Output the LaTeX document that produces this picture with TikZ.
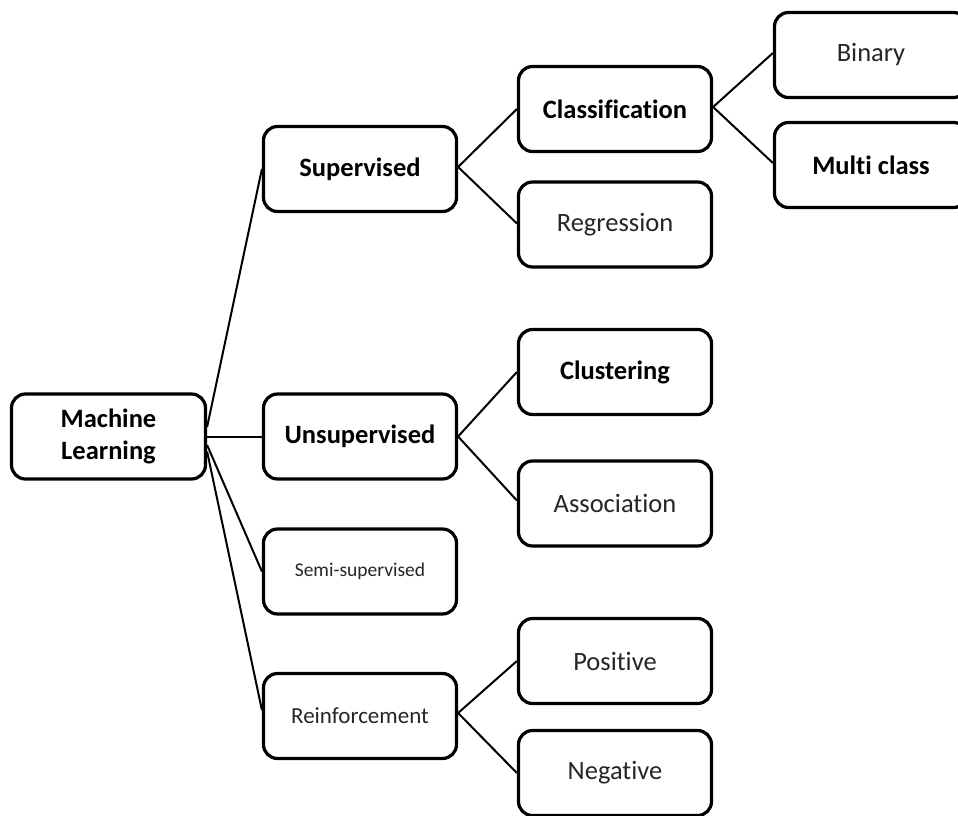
\documentclass[tikz,border=0pt]{standalone}
\usepackage{fontspec}
\setmainfont{Carlito}[Ligatures={NoCommon,NoContextual}, Contextuals=NoAlternate]
\begin{document}
\begin{tikzpicture}[x=1pt,y=-1pt,
  box/.style={draw, line width=3.2pt, rounded corners=14pt, minimum width=193pt,
    minimum height=85pt, align=center, inner sep=0pt,
    font=\fontsize{26.5}{32}\selectfont, text=black!85},
  bbox/.style={box, font=\fontsize{26.5}{32}\selectfont\bfseries, text=black},
  link/.style={line width=2pt}]
\clip (0,0) rectangle (958,816);
\fill[white] (0,0) rectangle (958,816);

\node[bbox, minimum width=194pt] (ml) at (108.5,436.5) {Machine\\Learning};

\node[bbox] (sup) at (360,169) {Supervised};
\node[bbox] (uns) at (360,436.5) {Unsupervised};
\node[box, font=\fontsize{19.5}{24}\selectfont] (semi) at (360,571.5) {Semi-supervised};
\node[box, font=\fontsize{23}{28}\selectfont] (rein) at (360,716) {Reinforcement};

\node[bbox] (cla) at (615,109) {Classification};
\node[box] (reg) at (615,224.5) {Regression};
\node[bbox] (clu) at (615,372) {Clustering};
\node[box] (ass) at (615,503.5) {Association};
\node[box] (pos) at (615,661) {Positive};
\node[box] (neg) at (615,773) {Negative};

\node[box] (bin) at (871,55) {Binary};
\node[bbox] (mul) at (871,165) {Multi class};

\draw[link] ([yshift=9.5pt]ml.east) -- (sup.west);
\draw[link] (ml.east) -- (uns.west);
\draw[link] ([yshift=-8.5pt]ml.east) -- (semi.west);
\draw[link] ([yshift=-15pt]ml.east) -- ([yshift=6pt]rein.west);

\draw[link] ([yshift=2pt]sup.east) -- ([yshift=0pt]cla.west);
\draw[link] ([yshift=2pt]sup.east) -- ([yshift=1pt]reg.west);
\draw[link] (uns.east) -- (clu.west);
\draw[link] (uns.east) -- ([yshift=3pt]ass.west);
\draw[link] ([yshift=3pt]rein.east) -- (pos.west);
\draw[link] ([yshift=3pt]rein.east) -- (neg.west);

\draw[link] ([yshift=2pt]cla.east) -- ([yshift=2pt]bin.west);
\draw[link] ([yshift=2pt]cla.east) -- ([yshift=2pt]mul.west);
\end{tikzpicture}
\end{document}
